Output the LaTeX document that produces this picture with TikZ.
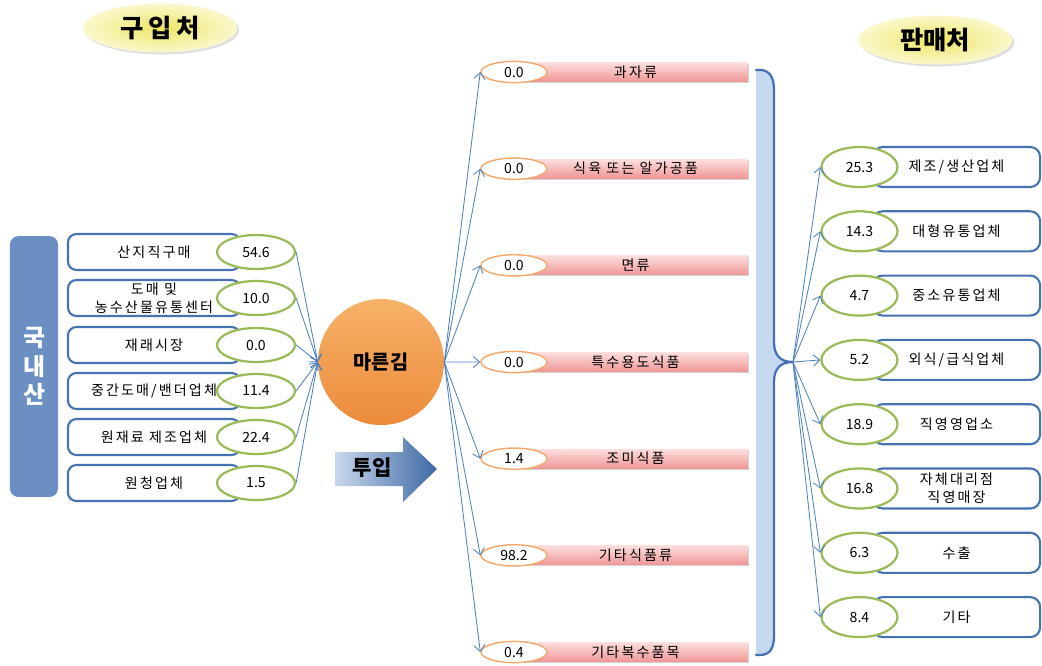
\documentclass[tikz,border=0pt]{standalone}
\usepackage{fontspec}
\setmainfont{Noto Sans CJK KR}
\newfontfamily\lblfont[LetterSpace=15]{Noto Sans CJK KR}
\usetikzlibrary{arrows.meta,shapes.geometric,shadows}

\definecolor{boxblue}{RGB}{70,114,178}
\definecolor{barblue}{RGB}{107,142,195}
\definecolor{leafgreen}{RGB}{155,187,89}
\definecolor{peach}{RGB}{245,168,105}
\definecolor{linkblue}{RGB}{79,129,189}
\definecolor{bracefill}{RGB}{198,217,240}
\definecolor{titleyel}{RGB}{236,230,100}
\definecolor{titlepale}{RGB}{250,248,205}
\definecolor{pinktop}{RGB}{252,222,222}
\definecolor{pinkbot}{RGB}{240,150,150}
\definecolor{gimtop}{RGB}{247,178,105}
\definecolor{gimbot}{RGB}{235,138,58}
\definecolor{inlight}{RGB}{200,216,236}
\definecolor{indark}{RGB}{62,104,165}

\tikzset{
  title/.style={ellipse, inner sep=0pt, minimum width=3.85cm, minimum height=1.22cm,
    inner color=titleyel, outer color=titlepale,
    drop shadow={opacity=0.25, shadow xshift=1.5pt, shadow yshift=-1.5pt},
    font=\fontsize{18}{21}\selectfont\bfseries},
  lbl/.style={font=\lblfont\fontsize{10}{13}\selectfont, align=center},
  num/.style={font=\fontsize{10}{12}\selectfont},
  srcbox/.style={lbl, draw=boxblue, line width=1.5pt, rounded corners=6pt, fill=white,
    minimum width=4.3cm, minimum height=0.9cm, inner sep=0pt},
  srcval/.style={num, ellipse, draw=leafgreen, line width=1.6pt, fill=white,
    minimum width=1.95cm, minimum height=0.85cm, inner sep=0pt},
  prodbar/.style={lbl, top color=pinktop, bottom color=pinkbot,
    drop shadow={opacity=0.35, shadow xshift=1pt, shadow yshift=-1pt},
    minimum width=5.62cm, minimum height=0.48cm, inner sep=0pt},
  prodval/.style={num, ellipse, draw=peach, line width=1pt, fill=white,
    minimum width=1.65cm, minimum height=0.53cm, inner sep=0pt},
  salebox/.style={lbl, draw=boxblue, line width=1.5pt, rounded corners=7pt, fill=white,
    minimum width=4.18cm, minimum height=1cm, inner sep=0pt},
  saleval/.style={num, ellipse, draw=leafgreen, line width=1.6pt, fill=white,
    minimum width=1.9cm, minimum height=1cm, inner sep=0pt},
  link/.style={draw=linkblue, line width=0.6pt},
}

\begin{document}
\begin{tikzpicture}[x=0.025cm, y=-0.025cm, line cap=round, line join=round,
    >={Straight Barb[length=1.6mm,width=2.8mm]}]
    \useasboundingbox (0,0) rectangle (1042,666);

    % Titles
    \node[title] (buy) at (160,28) {\addfontfeature{LetterSpace=20}구입처};
    \node[title] (sell) at (935,40) {판매처};

    % Domestic bar on the left
    \node[fill=barblue, rounded corners=6pt, minimum width=1.2cm, minimum height=6.52cm,
          text=white, align=center, font=\fontsize{17}{20.5}\selectfont\bfseries] (dom) at (34,366.5) {국\\내\\산};

    % Central circle
    \node[circle, minimum size=3.15cm, inner sep=0pt, top color=gimtop, bottom color=gimbot,
          font=\fontsize{14}{16}\selectfont\bfseries] (gim) at (381,362) {마른김};

    % Purchase sources
    \foreach \i/\y/\name/\val in {1/252/산지직구매/54.6, 2/298/{도매 및\\농수산물유통센터}/10.0,
        3/345/재래시장/0.0, 4/391/{중간도매/밴더업체}/11.4, 5/437/원재료 제조업체/22.4,
        6/483/원청업체/1.5} {
      \node[srcbox] (lb\i) at (154,\y) {\name};
      \node[srcval] (lv\i) at (256,\y) {\val};
      \draw[link,->] (lv\i.east) -- (gim.west);
    }

    % Input arrow
    \shade[left color=inlight, right color=indark]
      (335,452) -- (403,452) -- (403,437) -- (437,469) -- (403,502) -- (403,486) -- (335,486) -- cycle;
    \node[font=\fontsize{15}{17}\selectfont\bfseries] (input) at (372,468) {투입};

    % Product groups
    \foreach \i/\val/\name in {1/0.0/과자류, 2/0.0/식육 또는 알가공품, 3/0.0/면류,
        4/0.0/특수용도식품, 5/1.4/조미식품, 6/98.2/기타식품류, 7/0.4/기타복수품목} {
      \pgfmathsetmacro{\y}{72+96.67*(\i-1)}
      \node[prodbar] (mb\i) at (635.5,\y) {\name};
      \node[prodval] (mv\i) at (514,\y) {\val};
      \draw[link,->] (gim.east) -- (mv\i.west);
    }

    % Brace collecting the products
    \fill[bracefill] (756,70) -- (760,70) .. controls (770,70) and (774,78) .. (774,90)
      -- (774,342) .. controls (774,355) and (780,362) .. (793,362)
      .. controls (780,362) and (774,369) .. (774,382) -- (774,636)
      .. controls (774,648) and (770,655) .. (760,655) -- (756,655) -- cycle;
    \draw[boxblue, line width=1.6pt] (756,70) -- (760,70) .. controls (770,70) and (774,78) .. (774,90)
      -- (774,342) .. controls (774,355) and (780,362) .. (793,362)
      .. controls (780,362) and (774,369) .. (774,382) -- (774,636)
      .. controls (774,648) and (770,655) .. (760,655) -- (756,655);
    \coordinate (tip) at (793,362);

    % Sales channels
    \foreach \i/\val/\name in {1/25.3/{제조/생산업체}, 2/14.3/대형유통업체, 3/4.7/중소유통업체,
        4/5.2/{외식/급식업체}, 5/18.9/직영영업소, 6/16.8/{자체대리점\\직영매장}, 7/6.3/수출, 8/8.4/기타} {
      \pgfmathsetmacro{\y}{167+64.3*(\i-1)}
      \node[salebox] (rb\i) at (956.5,\y) {\name};
      \node[saleval] (rv\i) at (859.5,\y) {\val};
      \draw[link,->] (tip) -- (rv\i.west);
    }
\end{tikzpicture}
\end{document}
